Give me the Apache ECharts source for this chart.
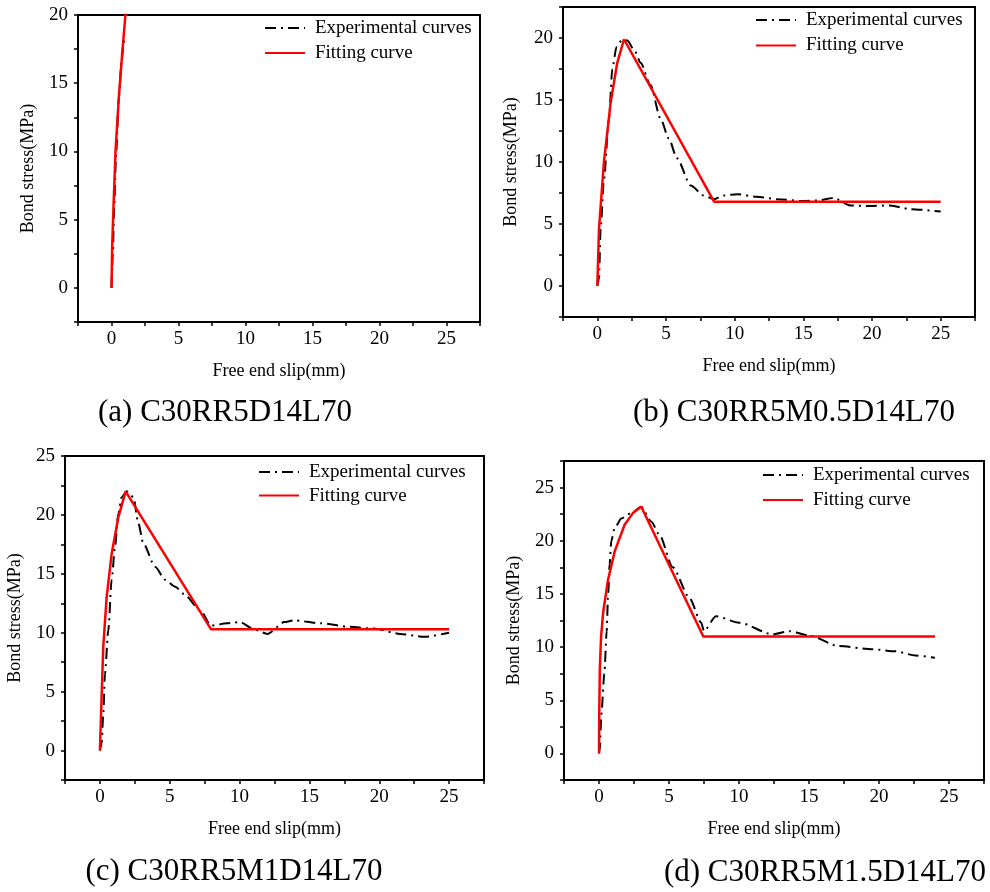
<!DOCTYPE html>
<html>
<head>
<meta charset="utf-8">
<script src="https://cdn.jsdelivr.net/npm/echarts@6/dist/echarts.min.js"></script>
<style>
  html, body { margin: 0; padding: 0; background: #fff; }
  #chart { width: 990px; height: 892px; }
</style>
</head>
<body>
<div id="chart"></div>
<script>
// panel (a) C30RR5D14L70
const expA = [[0, 0], [0.1, 2.5], [0.2, 6], [0.35, 10], [0.55, 14], [0.75, 16.5], [0.9, 18], [1.04, 18.4]];
const fitA = [[0, 0], [0.05, 3], [0.15, 6], [0.3, 10], [0.55, 14], [0.8, 17.2], [1.04, 20], [1.25, 22.5]];

// panel (b) C30RR5M0.5D14L70
const expB = [[0, 0], [0.12, 0.6], [0.24, 4.6], [0.48, 8.6], [0.85, 13.5], [1.09, 17.5], [1.4, 19.3], [1.8, 19.85],
  [2.18, 19.8], [2.7, 19.0], [3.15, 18.0], [3.87, 16.2], [4.6, 13.5], [5.2, 11.9], [5.8, 10.3], [6.8, 8.1], [7.75, 7.3],
  [8.5, 7.0], [9.2, 7.3], [10.2, 7.4], [11.6, 7.2], [13.1, 7.0], [15, 6.85], [16, 6.9], [17.2, 7.1],
  [18.4, 6.5], [19.9, 6.45], [21.3, 6.5], [22.8, 6.2], [25, 6.0]];
const fitB = [[0, 0], [0.12, 4.6], [0.48, 10], [0.97, 14.8], [1.45, 18], [1.94, 19.9], [8.5, 6.8], [25, 6.8]];

// panel (c) C30RR5M1D14L70
const expC = [[0, 0], [0.12, 0.6], [0.24, 3.1], [0.36, 6.5], [0.6, 10.2], [0.84, 14.5], [1.08, 17.3], [1.32, 20.1],
  [1.56, 21.5], [1.92, 22], [2.4, 21.5], [2.75, 19.3], [3.1, 17.6], [3.95, 15.6], [4.67, 14.5], [5.4, 13.9],
  [6, 13.3], [7.2, 11.9], [7.95, 10.6], [9.1, 10.8], [10.05, 10.9], [11, 10.3], [12, 9.9], [13.2, 10.9],
  [13.9, 11.05], [15.8, 10.8], [17.9, 10.5], [19.6, 10.35], [21.5, 9.9], [23.2, 9.65], [25, 10.0]];
const fitC = [[0, 0], [0.12, 4.5], [0.24, 8.8], [0.48, 13], [0.84, 16.7], [1.32, 19.8], [1.84, 22.0], [7.95, 10.3], [25, 10.3]];

// panel (d) C30RR5M1.5D14L70
const expD = [[0, 0], [0.05, 0.3], [0.17, 3.7], [0.38, 7.5], [0.55, 11.5], [0.64, 14.6], [0.76, 17.8], [0.88, 20],
  [1.12, 21.2], [1.6, 22.1], [2.3, 22.6], [3.02, 23.2], [3.73, 21.8], [4.3, 20.6], [5.27, 17.5], [6.45, 14.65],
  [7.3, 12.3], [7.5, 11.5], [8.35, 12.9], [10, 12.3], [12.4, 11.2], [13.6, 11.5], [15, 11.1], [17.1, 10.1],
  [19.5, 9.8], [21.2, 9.6], [22.6, 9.2], [24, 9.0]];
const fitD = [[0, 0], [0.02, 4], [0.06, 8], [0.15, 11], [0.3, 13.3], [0.64, 16.3], [1.12, 19], [1.83, 21.5],
  [2.42, 22.6], [3.02, 23.2], [7.45, 11.0], [24, 11.0]];

const yMax = [20, 22.5, 25, 27.5];
const captions = ['(a) C30RR5D14L70', '(b) C30RR5M0.5D14L70', '(c) C30RR5M1D14L70', '(d) C30RR5M1.5D14L70'];

const FONT = 'Liberation Serif';
const grids = [
  { left: 78, top: 15, width: 402, height: 307 },
  { left: 563, top: 7, width: 412, height: 310 },
  { left: 65, top: 456, width: 419, height: 324 },
  { left: 564, top: 461, width: 420, height: 319 }
];
const legendPos = [
  { left: 264, top: 18.5, itemGap: 6 },
  { left: 755, top: 10.5, itemGap: 6.4 },
  { left: 258, top: 462.5, itemGap: 4.6 },
  { left: 762, top: 465.5, itemGap: 6 }
];
const captionPos = [[225, 413], [794, 413], [234, 872], [825, 873]];
const yNameGap = [41, 43, 41, 41];

function fmt(v) {
  return Math.abs(v % 5) < 1e-9 ? String(v) : '';
}

function xAxis(i) {
  return {
    type: 'value', gridIndex: i, min: -2.5, max: 27.5, interval: 2.5,
    name: 'Free end slip(mm)', nameLocation: 'middle', nameGap: 40,
    nameTextStyle: { fontFamily: FONT, fontSize: 18, color: '#000' },
    axisLine: { onZero: false, lineStyle: { color: '#000', width: 2 } },
    axisTick: { length: 4, lineStyle: { color: '#000', width: 1.5 } },
    axisLabel: { formatter: fmt, fontFamily: FONT, fontSize: 19, color: '#000', margin: 8 },
    splitLine: { show: false }
  };
}

function yAxis(i) {
  return {
    type: 'value', gridIndex: i, min: -2.5, max: yMax[i], interval: 2.5,
    name: 'Bond stress(MPa)', nameLocation: 'middle', nameGap: yNameGap[i],
    nameTextStyle: { fontFamily: FONT, fontSize: 18, color: '#000' },
    axisLine: { onZero: false, lineStyle: { color: '#000', width: 2 } },
    axisTick: { length: 4, lineStyle: { color: '#000', width: 1.5 } },
    axisLabel: { formatter: fmt, fontFamily: FONT, fontSize: 19, color: '#000', margin: 10 },
    splitLine: { show: false }
  };
}

const expData = [expA, expB, expC, expD];
const fitData = [fitA, fitB, fitC, fitD];
const series = [];
for (let i = 0; i < 4; i++) {
  series.push({
    name: 'Experimental curves', type: 'line', xAxisIndex: i, yAxisIndex: i,
    data: expData[i], symbol: 'none', smooth: 0.25, smoothMonotone: 'x',
    lineStyle: { color: '#000', width: 2, type: [11, 5, 2, 5] },
    itemStyle: { color: '#000' }, z: 2
  });
  series.push({
    name: 'Fitting curve', type: 'line', xAxisIndex: i, yAxisIndex: i,
    data: fitData[i], symbol: 'none',
    lineStyle: { color: '#ff0000', width: 2.5 },
    itemStyle: { color: '#ff0000' }, z: 3
  });
}

const chart = echarts.init(document.getElementById('chart'));

const option = {
  backgroundColor: '#fff',
  animation: false,
  grid: grids.map(g => Object.assign({ show: true, borderColor: '#000', borderWidth: 2, backgroundColor: 'transparent' }, g)),
  xAxis: [0, 1, 2, 3].map(xAxis),
  yAxis: [0, 1, 2, 3].map(yAxis),
  legend: legendPos.map(p => ({
    left: p.left, top: p.top, itemGap: p.itemGap, orient: 'vertical', padding: 0,
    itemWidth: 40, itemHeight: 14, selectedMode: false,
    data: ['Experimental curves', 'Fitting curve'],
    // hide the default circle symbol, keep only the line sample
    itemStyle: { color: 'rgba(0,0,0,0)', borderColor: 'rgba(0,0,0,0)', borderWidth: 0 },
    textStyle: { fontFamily: FONT, fontSize: 19, color: '#000', padding: [0, 0, 0, 5] }
  })),
  graphic: captions.map((t, i) => ({
    type: 'text', x: captionPos[i][0], y: captionPos[i][1],
    style: { text: t, fontFamily: FONT, fontSize: 31, fill: '#000', align: 'center', verticalAlign: 'middle' }
  })),
  series: series
};

chart.setOption(option);

window.addEventListener('resize', function () {
  chart.resize();
});
</script>
</body>
</html>
